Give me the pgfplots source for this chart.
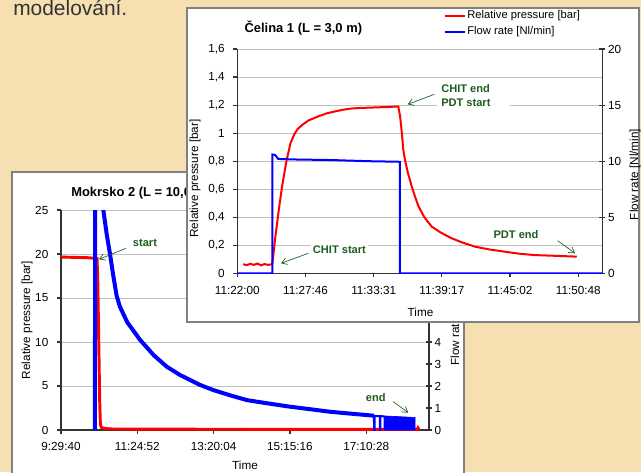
\documentclass[border=0pt]{standalone}
\usepackage{fontspec}
\setmainfont{Liberation Sans}
\usepackage{pgfplots}
\pgfplotsset{compat=1.18}
\usetikzlibrary{arrows.meta}
\definecolor{bgbeige}{HTML}{F6E0B2}
\definecolor{frame}{HTML}{808080}
\definecolor{annot}{HTML}{1F5C1F}
\definecolor{gridc}{HTML}{C0C0C0}
\definecolor{axc}{HTML}{333333}
\newcommand{\px}{0.75pt}
\newcommand{\tickfont}{\fontsize{8.8}{10}\selectfont}
\newcommand{\anfont}{\fontsize{8.3}{9}\selectfont\bfseries}
\pgfplotsset{
  chart/.style={
    scale only axis, anchor=south west,
    tick label style={font=\tickfont, text=black},
    /pgf/number format/assume math mode=true,
    /pgf/number format/use comma,
    axis line style={axc, line width=0.9pt, -},
    tick style={axc, line width=0.9pt},
    major tick length=3pt,
  },
  leftax/.style={chart, tick align=outside,
    yticklabel style={xshift=-3pt}, xticklabel style={yshift=-3pt},
    ymajorgrids, grid style={gridc, line width=0.75pt},
    axis x line*=bottom, axis y line*=left},
  rightax/.style={chart, tick align=center, major tick length=4.5pt,
    yticklabel style={xshift=-1.5pt},
    axis x line=none, axis y line*=right},
}
\tikzset{annarrow/.style={annot, line width=0.5pt, -{Straight Barb[length=4pt,width=5pt]}}}

\begin{document}
\begin{tikzpicture}
\useasboundingbox (0,0) rectangle ({641*\px},{-472*\px});
\clip (0,0) rectangle ({641*\px},{-472*\px});
\fill[bgbeige] (0,0) rectangle ({641*\px},{-472*\px});
\node[anchor=base west, inner sep=0, text=axc, font=\fontsize{15.7}{18}\selectfont] at ({13*\px},{-15*\px}) {modelování.};

% back panel: Mokrsko 2
\filldraw[fill=white, draw=frame, line width=1.5pt] ({12*\px},{-172*\px}) rectangle ({464*\px},{-490*\px});
\node[anchor=base west, inner sep=0, font=\fontsize{9.7}{11}\selectfont\bfseries] at ({71*\px},{-196*\px}) {Mokrsko 2 (L = 10,0 m)};

\begin{axis}[leftax,
  at={(45.75pt,-322.5pt)}, width=276pt, height=165pt,
  xmin=0, xmax=555.6, ymin=0, ymax=25,
  xtick={0,115.2,230.4,345.6,460.8},
  xticklabels={9:29:40,11:24:52,13:20:04,15:15:16,17:10:28},
  ytick={0,5,...,25},
]
\addplot[red, line width=2.2pt] coordinates {
  (0,19.65) (20,19.62) (40,19.58) (54.4,19.5) (55.5,17) (57,10) (58.5,3)
  (59.5,0.6) (61,0.3) (64,0.2) (75,0.12) (120,0.1) (300,0.08) (538,0.08)
  (539,0.25) (540.5,0.1)
};
\end{axis}
\begin{axis}[rightax,
  at={(45.75pt,-322.5pt)}, width=276pt, height=165pt,
  xmin=0, xmax=555.6, ymin=0, ymax=10,
  ytick={0,1,...,10},
]
\addplot[blue, line width=3pt] coordinates {
  (51.3,0) (51.4,15) (56,13) (60,11.2) (63.9,10) (69,8.9) (74,8.0) (79,7.0)
  (84,6.1) (89,5.6) (100,4.9) (119.3,4.1) (140,3.4) (159.6,2.88) (179.7,2.5)
  (209.9,2.05) (229.5,1.82) (255,1.58) (280.4,1.36) (310,1.22) (345.7,1.06)
  (375,0.95) (406.1,0.83) (435,0.75) (461.5,0.68) (472.5,0.65)
};
\addplot[blue, line width=1.5pt] coordinates {
  (472.5,0.65) (472.6,0) (473.4,0) (473.5,0.64) (481.3,0.63) (481.4,0)
  (482.1,0) (482.2,0.63) (487.6,0.62)
};
\addplot[blue, fill=blue, line width=0.5pt] coordinates {
  (487.7,0) (487.7,0.64) (534.5,0.57) (534.5,0)
} --cycle;
\end{axis}
\node[rotate=90, font=\tickfont] at ({27*\px},{-320*\px}) {Relative pressure [bar]};
\node[rotate=90, font=\tickfont] at ({456*\px},{-320*\px}) {Flow rate [Nl/min]};
\node[font=\tickfont] at ({245*\px},{-465*\px}) {Time};
\node[anchor=base west, inner sep=0, text=annot, font=\anfont] at ({132.7*\px},{-246*\px}) {start};
\draw[annarrow] ({126*\px},{-248.3*\px}) -- ({99*\px},{-259.3*\px});
\node[anchor=base west, inner sep=0, text=annot, font=\anfont] at ({365.7*\px},{-401*\px}) {end};
\draw[annarrow] ({393.3*\px},{-401.7*\px}) -- ({408.3*\px},{-412.7*\px});

% front panel: Celina 1
\filldraw[fill=white, draw=frame, line width=1.5pt] ({187*\px},{-8*\px}) rectangle ({639*\px},{-322*\px});
\node[anchor=base west, inner sep=0, font=\fontsize{9.7}{11}\selectfont\bfseries] at ({244.3*\px},{-32*\px}) {Čelina 1 (L = 3,0 m)};

\begin{axis}[leftax,
  at={(177.98pt,-204.98pt)}, width=273.75pt, height=168.2pt,
  xmin=0, xmax=30.83, ymin=0, ymax=1.6,
  xtick={0,5.76,11.52,17.28,23.04,28.8},
  xticklabels={11:22:00,11:27:46,11:33:31,11:39:17,11:45:02,11:50:48},
  ytick={0,0.2,...,1.6},
]
\addplot[red, line width=1.5pt] coordinates {
  (0.5,0.065) (0.8,0.058) (1.1,0.068) (1.4,0.06) (1.7,0.07) (2.0,0.057)
  (2.3,0.066) (2.6,0.06) (2.95,0.065) (3.0,0.1) (3.2,0.25) (3.5,0.45)
  (3.8,0.63) (4.17,0.81) (4.5,0.93) (4.8,0.99) (5.1,1.03) (5.5,1.06)
  (6.0,1.09) (6.85,1.12) (7.5,1.14) (8.25,1.155) (9.0,1.168) (9.66,1.176)
  (10.5,1.18) (11.5,1.183) (12.5,1.186) (13.6,1.19) (13.75,1.12) (13.9,1.0)
  (14.02,0.88) (14.16,0.81) (14.4,0.72) (14.73,0.62) (15.0,0.55) (15.29,0.48)
  (15.8,0.40) (16.42,0.333) (17.2,0.29) (18.11,0.25) (19.0,0.22) (20.08,0.19)
  (21.3,0.17) (22.61,0.154) (23.8,0.14) (25.14,0.13) (26.8,0.125) (28.67,0.119)
};
\end{axis}
\begin{axis}[rightax,
  at={(177.98pt,-204.98pt)}, width=273.75pt, height=168.2pt,
  xmin=0, xmax=30.83, ymin=0, ymax=20,
  ytick={0,5,...,20},
  legend style={at={(0.5655,1.178)}, anchor=north west, draw=none, fill=none,
    inner sep=0pt, font=\fontsize{8.4}{9}\selectfont, row sep=2.4pt,
    nodes={inner sep=1pt}},
  legend cell align=left,
  legend image code/.code={\draw[#1] (0pt,0pt) -- (15pt,0pt);},
]
\addlegendimage{red, line width=1.5pt}
\addlegendentry{Relative pressure [bar]}
\addplot[blue, line width=1.5pt] coordinates {
  (0,0) (2.96,0) (2.96,10.6) (3.2,10.55) (3.45,10.2) (5,10.15) (8,10.1)
  (11,10.0) (13.6,9.95) (13.74,9.93) (13.74,0) (30.83,0)
};
\addlegendentry{Flow rate [Nl/min]}
\end{axis}
\node[rotate=90, font=\tickfont] at ({195*\px},{-178.5*\px}) {Relative pressure [bar]};
\node[rotate=90, font=\tickfont] at ({635*\px},{-174.5*\px}) {Flow rate [Nl/min]};
\node[anchor=base, inner sep=0, font=\tickfont] at ({420.5*\px},{-316.5*\px}) {Time};
\fill[white] ({437*\px},{-80*\px}) rectangle ({510*\px},{-112*\px});
\node[anchor=base west, inner sep=0, text=annot, font=\anfont] at ({441*\px},{-92.7*\px}) {CHIT end};
\node[anchor=base west, inner sep=0, text=annot, font=\anfont] at ({441*\px},{-106*\px}) {PDT start};
\draw[annarrow] ({434.3*\px},{-94.3*\px}) -- ({407.7*\px},{-104.3*\px});
\fill[white] ({311*\px},{-240*\px}) rectangle ({368*\px},{-258*\px});
\node[anchor=base west, inner sep=0, text=annot, font=\anfont] at ({312.7*\px},{-253.3*\px}) {CHIT start};
\draw[annarrow] ({308.3*\px},{-253.3*\px}) -- ({281*\px},{-263.3*\px});
\node[anchor=base west, inner sep=0, text=annot, font=\anfont] at ({493.3*\px},{-238.3*\px}) {PDT end};
\draw[annarrow] ({557.7*\px},{-240.7*\px}) -- ({575*\px},{-253.3*\px});
\end{tikzpicture}
\end{document}
